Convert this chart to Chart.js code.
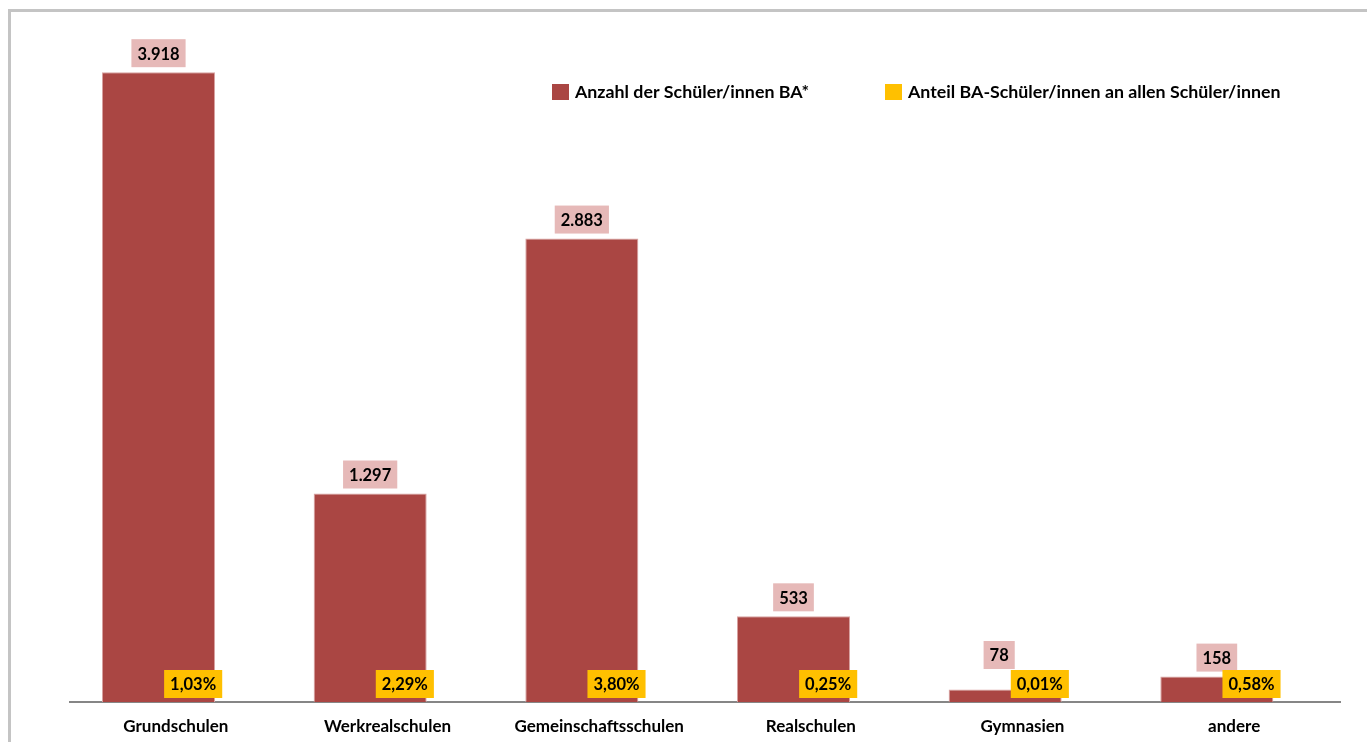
<!DOCTYPE html>
<html>
<head>
<meta charset="utf-8">
<script src="https://cdn.jsdelivr.net/npm/chart.js@4.4.1/dist/chart.umd.min.js"></script>
<style>
  html, body { margin: 0; padding: 0; background: #fff; overflow: hidden; }
  #frame {
    position: absolute; left: 8px; top: 9px; width: 1380px; height: 780px;
    border: 3px solid #c4c4c4; box-sizing: border-box;
  }
  #wrap { position: absolute; left: 0; top: 0; width: 1367px; height: 742px; }
</style>
</head>
<body>
<div id="frame"></div>
<div id="wrap"><canvas id="chart" width="1367" height="742"></canvas></div>
<script>
const schularten = ['Grundschulen', 'Werkrealschulen', 'Gemeinschaftsschulen', 'Realschulen', 'Gymnasien', 'andere'];
const anzahlBA = [3918, 1297, 2883, 533, 78, 158];
const anteilProzent = [1.03, 2.29, 3.80, 0.25, 0.01, 0.58];
const serienNamen = ['Anzahl der Schüler/innen BA*', 'Anteil BA-Schüler/innen an allen Schüler/innen'];

const FONT = 'Lato, "Open Sans", sans-serif';

// 3918 -> "3.918"
const fmtAnzahl = v => String(v).replace(/\B(?=(\d{3})+(?!\d))/g, '.');
// 0.0103 -> "1,03%"
const fmtAnteil = v => (v * 100).toFixed(2).replace('.', ',') + '%';

function drawBox(ctx, text, cx, bottom, bg) {
    const w = ctx.measureText(text).width + 12;
    const h = 28;
    ctx.fillStyle = bg;
    ctx.fillRect(cx - w / 2, bottom - h, w, h);
    ctx.fillStyle = '#000';
    ctx.fillText(text, cx, bottom - h / 2 + 1);
    return bottom - h;
}

// value labels with coloured boxes
const labelPlugin = {
    id: 'boxLabels',
    afterDatasetsDraw(chart) {
        const ctx = chart.ctx;
        const anzahlMeta = chart.getDatasetMeta(0);
        const anteilMeta = chart.getDatasetMeta(1);
        ctx.save();
        ctx.font = 'bold 16.5px ' + FONT;
        ctx.textAlign = 'center';
        ctx.textBaseline = 'middle';

        anzahlMeta.data.forEach((bar, i) => {
            const gelb = anteilMeta.data[i];
            const gelbTop = gelb.base - 4 - 28;
            let bottom = bar.y - 5;
            let cx = bar.x;
            // push the label above the percentage box when they collide
            if (bottom > gelbTop + 4) {
                bottom = gelbTop - 1;
                cx -= 6;
            }
            drawBox(ctx, fmtAnzahl(chart.data.datasets[0].data[i]), cx, bottom, '#E6B9B8');
        });

        anteilMeta.data.forEach((bar, i) => {
            drawBox(ctx, fmtAnteil(chart.data.datasets[1].data[i]), bar.x, bar.base - 4, '#FFC000');
        });
        ctx.restore();
    }
};

// legend inside the plot area, upper right
const legendPlugin = {
    id: 'innerLegend',
    afterDraw(chart) {
        const ctx = chart.ctx;
        const xs = [552, 885];
        ctx.save();
        ctx.font = 'bold 17.8px ' + FONT;
        ctx.textAlign = 'left';
        ctx.textBaseline = 'middle';
        chart.data.datasets.forEach((ds, i) => {
            ctx.fillStyle = ds.backgroundColor;
            ctx.fillRect(xs[i], 84, 17, 16);
            ctx.fillStyle = '#000';
            ctx.fillText(ds.label, xs[i] + 23, 92);
        });
        ctx.restore();
    }
};

new Chart(document.getElementById('chart'), {
    type: 'bar',
    data: {
        labels: schularten,
        datasets: [
            {
                label: serienNamen[0],
                data: anzahlBA,
                backgroundColor: '#AA4643',
                borderColor: '#D9A3A2',
                borderWidth: 1
            },
            {
                label: serienNamen[1],
                data: anteilProzent.map(p => p / 100),
                backgroundColor: '#FFC000'
            }
        ]
    },
    options: {
        responsive: false,
        animation: false,
        datasets: {
            bar: {
                categoryPercentage: 0.3276,
                barPercentage: 3.26
            }
        },
        layout: { padding: { left: 70, right: 27, top: 59, bottom: 0 } },
        plugins: {
            legend: { display: false },
            tooltip: { enabled: false }
        },
        scales: {
            x: {
                grid: { display: false, drawTicks: false },
                border: { color: '#868686', width: 2 },
                ticks: {
                    padding: 14,
                    color: '#000',
                    font: { family: FONT, weight: 'bold', size: 17 }
                },
                afterFit(scale) {
                    scale.height = 40;
                }
            },
            y: { display: false, min: 0, max: 4000 }
        }
    },
    plugins: [labelPlugin, legendPlugin]
});
</script>
</body>
</html>
